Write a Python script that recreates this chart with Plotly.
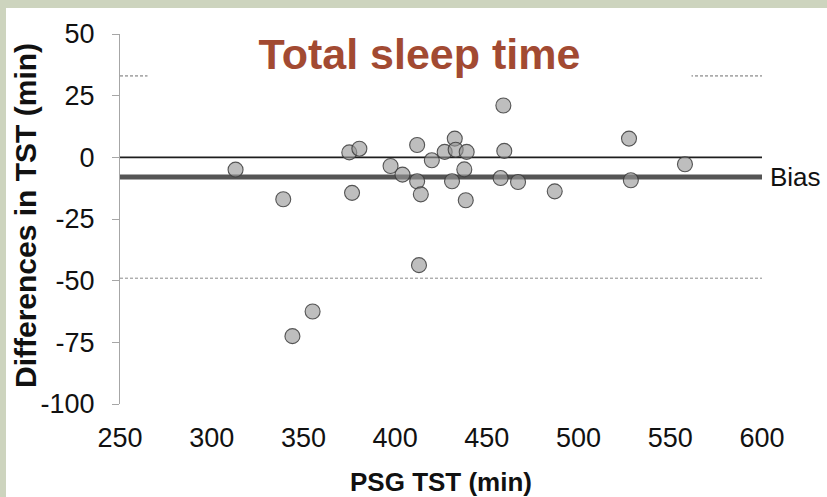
import plotly.graph_objects as go

# ---- data ----
psg_tst = [313, 339, 344, 355, 375, 380.5, 376.5, 397.5, 404, 412, 412, 414,
           420, 427, 432.5, 433, 439, 437.7, 431, 438.5, 459, 459.5, 457.5,
           467, 487, 413, 527.5, 528.5, 558]
diff_tst = [-5, -17, -72.5, -62.5, 2, 3.5, -14.4, -3.5, -7, 5, -9.7, -15,
            -1.2, 2.2, 7.6, 3.1, 2.2, -4.9, -9.7, -17.4, 21, 2.6, -8.4,
            -10, -13.8, -43.7, 7.6, -9.3, -2.8]
bias = -8
upper_loa = 33
lower_loa = -49
x_ticks = [250, 300, 350, 400, 450, 500, 550, 600]
y_ticks = [50, 25, 0, -25, -50, -75, -100]

# ---- geometry ----
W, H = 827, 497
L, R, T, B = 120, 65, 34, 93
PW, PH = W - L - R, H - T - B


def px(xp):
    return (xp - L) / PW


def py(yp):
    return (H - B - yp) / PH


FONT = "Liberation Sans, Arial, sans-serif"
SAGE = "#CDD4BE"

fig = go.Figure()
fig.add_trace(go.Scatter(
    x=psg_tst, y=diff_tst, mode="markers",
    marker=dict(size=15, color="rgba(150,150,150,0.62)",
                line=dict(color="rgba(60,60,60,0.85)", width=1.1)),
    showlegend=False, hoverinfo="x+y"))

shapes = [
    # frame strips
    dict(type="rect", xref="paper", yref="paper", x0=px(0), x1=px(6),
         y0=py(H), y1=py(0), fillcolor=SAGE, line=dict(width=0)),
    dict(type="rect", xref="paper", yref="paper", x0=px(0), x1=px(W),
         y0=py(8), y1=py(0), fillcolor=SAGE, line=dict(width=0)),
    # limits of agreement
    dict(type="line", xref="paper", yref="y", x0=0, x1=1, y0=upper_loa, y1=upper_loa,
         line=dict(color="#6E6E6E", width=1, dash="3px,2px"), layer="below"),
    dict(type="line", xref="paper", yref="y", x0=0, x1=1, y0=lower_loa, y1=lower_loa,
         line=dict(color="#8A8A8A", width=1, dash="3px,2px"), layer="below"),
    # zero line
    dict(type="line", xref="paper", yref="y", x0=0, x1=1, y0=0, y1=0,
         line=dict(color="#1E1E1E", width=1.6), layer="below"),
    # bias line
    dict(type="line", xref="paper", yref="y", x0=0, x1=1, y0=bias, y1=bias,
         line=dict(color="#555555", width=5), layer="below"),
]

annotations = [
    dict(text="<b>Total sleep time</b>", xref="paper", yref="paper",
         x=px(419.5), y=py(54), xanchor="center", yanchor="middle",
         width=541, height=58, bgcolor="white", showarrow=False,
         font=dict(family=FONT, size=43, color="#A24A32")),
    dict(text="Bias", xref="paper", yref="y", x=px(768), y=bias,
         xanchor="left", yanchor="middle", showarrow=False,
         font=dict(family=FONT, size=26, color="#111111")),
    dict(text="<b>PSG TST (min)</b>", xref="paper", yref="paper",
         x=px(441), y=py(482), xanchor="center", yanchor="middle",
         showarrow=False, font=dict(family=FONT, size=26, color="#111111")),
    dict(text="<b>Differences in TST (min)</b>", xref="paper", yref="paper",
         x=px(25), y=py(216), xanchor="center", yanchor="middle",
         textangle=-90, showarrow=False,
         font=dict(family=FONT, size=30, color="#111111")),
]

fig.update_layout(
    width=W, height=H,
    margin=dict(l=L, r=R, t=T, b=B, autoexpand=False),
    paper_bgcolor="white", plot_bgcolor="rgba(0,0,0,0)",
    shapes=shapes, annotations=annotations, showlegend=False,
    font=dict(family=FONT, color="#111111"),
    xaxis=dict(range=[250, 600], tickvals=x_ticks, ticktext=[str(v) for v in x_ticks],
               showgrid=False, zeroline=False, showline=False, ticks="",
               tickfont=dict(family=FONT, size=27, color="#111111"),
               ticklabelstandoff=15, fixedrange=True),
    yaxis=dict(range=[-100, 50], tickvals=y_ticks, ticktext=[str(v) for v in y_ticks],
               showgrid=False, zeroline=False, showline=True, linecolor="#A6A6A6",
               linewidth=1, ticks="outside", ticklen=7, tickcolor="#A6A6A6",
               tickfont=dict(family=FONT, size=27, color="#111111"),
               ticklabelstandoff=12, fixedrange=True),
)

fig.write_html(
    "out.html",
    config={"displayModeBar": False},
    post_script="document.body.style.margin='0px';document.body.style.overflow='hidden';",
)
